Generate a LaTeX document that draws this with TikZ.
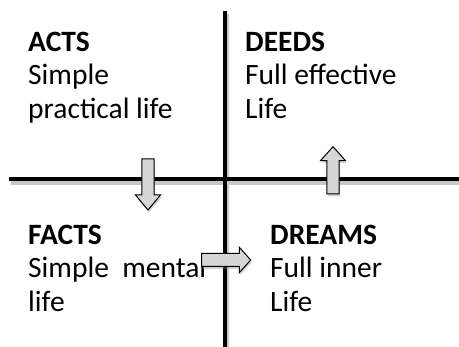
\documentclass[tikz,border=0pt]{standalone}
\usepackage{fontspec}
\setmainfont{Carlito}
\usetikzlibrary{shadows}

\begin{document}
\begin{tikzpicture}[x=1pt,y=-1pt,
  axis/.style={line width=4.5pt},
  axisshadow/.style={line width=4.5pt,black!22},
  quad/.style={anchor=north west,inner sep=0pt,align=left,font=\fontsize{29.5}{33.5}\selectfont},
  blockarrow/.style={draw=black,fill=black!16,line width=1pt,line join=miter,
    drop shadow={shadow xshift=1pt,shadow yshift=-2.5pt,opacity=0.35}}]
\useasboundingbox (0,0) rectangle (459,347);
% quadrant texts
\node[quad] (acts) at (28,31.5) {\textbf{ACTS}\\Simple\\practical life};
\node[quad] (deeds) at (245,31.5) {\textbf{DEEDS}\\Full effective\\Life};
\node[quad] (facts) at (28,224.5) {\textbf{FACTS}\\Simple~~mental\\life};
\node[quad] (dreams) at (270,224.5) {\textbf{DREAMS}\\Full inner\\Life};
% axes
\coordinate (hl) at (9.3,179);
\coordinate (hr) at (459,179);
\coordinate (vt) at (225,11);
\coordinate (vb) at (225,347);
\draw[axisshadow] ([shift={(1.5,3.5)}]hl) -- ([shift={(1.5,3.5)}]hr);
\draw[axisshadow] ([shift={(1.5,3.5)}]vt) -- ([shift={(1.5,3.5)}]vb);
\draw[axis] (hl) -- (hr);
\draw[axis] (vt) -- (vb);
% block arrows
\draw[blockarrow] (141.8,159) -- (154.2,159) -- (154.2,195) -- (160.5,195)
  -- (148,210) -- (135.5,195) -- (141.8,195) -- cycle;
\draw[blockarrow] (326.8,194) -- (339.2,194) -- (339.2,160.7) -- (345.5,160.7)
  -- (333,146.7) -- (320.5,160.7) -- (326.8,160.7) -- cycle;
\draw[blockarrow] (201.7,253.5) -- (239.3,253.5) -- (239.3,247.3) -- (250.7,260)
  -- (239.3,272.7) -- (239.3,266.5) -- (201.7,266.5) -- cycle;
\end{tikzpicture}
\end{document}
